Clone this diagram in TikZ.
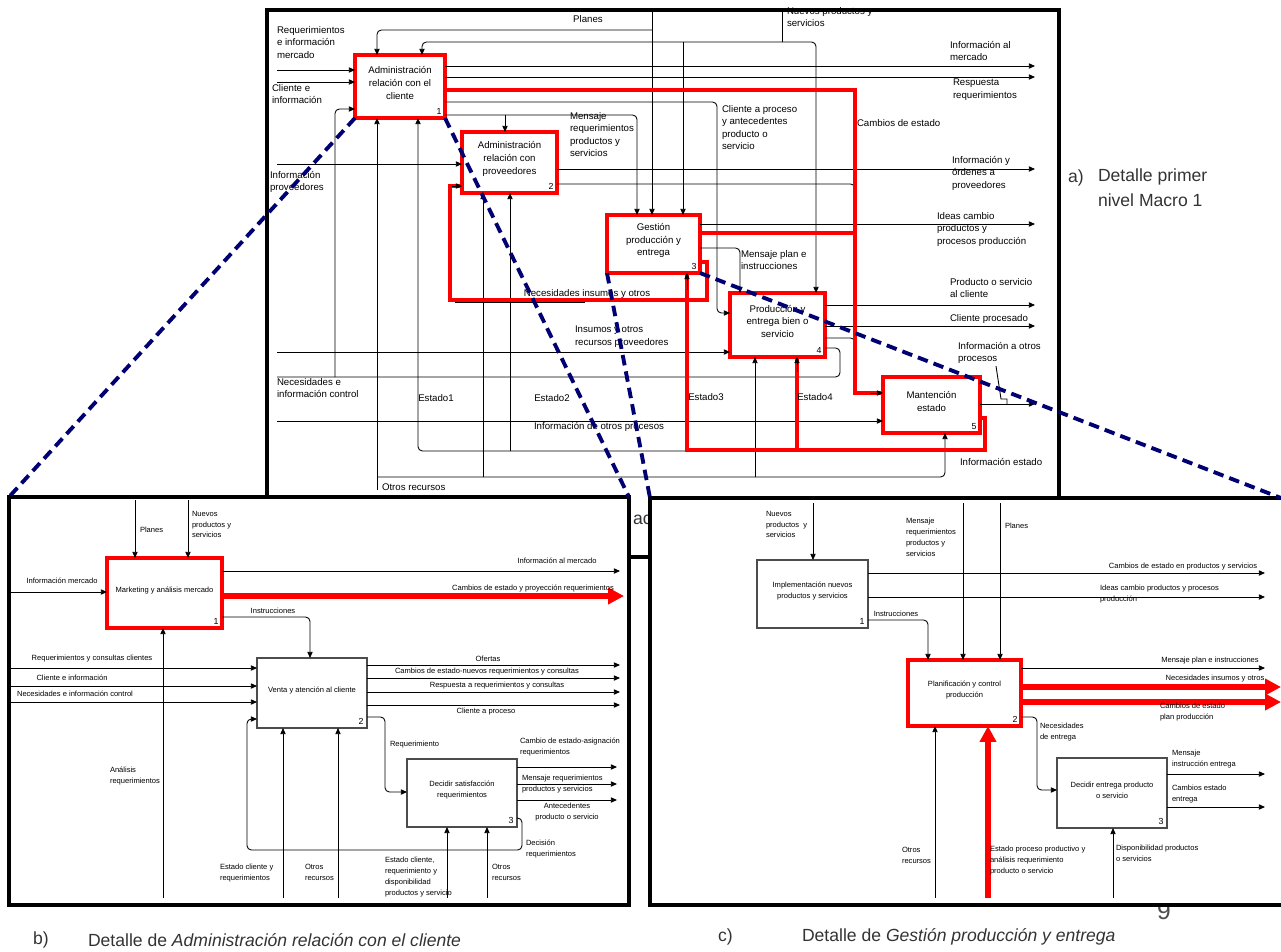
\documentclass[tikz,border=0pt]{standalone}
\usepackage{fontspec}
\setmainfont{Liberation Sans}
\usetikzlibrary{arrows.meta,fit}
\begin{document}
\begin{tikzpicture}[x=0.02cm,y=-0.02cm,
  every node/.style={inner sep=0pt,outer sep=0pt},
  tf/.style={font=\fontsize{5.5}{7.2}\selectfont},
  pf/.style={font=\fontsize{4.3}{6.2}\selectfont},
  lbl/.style={tf,align=left,anchor=north west},
  plbl/.style={pf,align=left,anchor=north west},
  rbox/.style={draw=red,line width=2.6pt,fill=white,align=center,tf},
  gbox/.style={draw=black!70,line width=0.6pt,fill=white,align=center,pf},
  prbox/.style={draw=red,line width=2.6pt,fill=white,align=center,pf},
  conn/.style={draw=black,line width=0.5pt,rounded corners=2.5pt},
  arr/.style={conn,-{Triangle[length=3.5pt,width=3pt]}},
  redl/.style={draw=red,line width=2.3pt},
  bigred/.style={draw=red,line width=3pt,-{Triangle[length=9pt,width=9pt]}},
  frm/.style={draw=black,line width=1.8pt,fill=white},
  bluedash/.style={draw=blue!45!black,line width=2.2pt,dash pattern=on 6pt off 3.5pt},
  boxnum/.style={anchor=south east,inner sep=2pt,font=\fontsize{5}{5}\selectfont},
  capt/.style={font=\fontsize{10}{14}\selectfont,text=black!80,anchor=west,align=left},
]
\useasboundingbox (0,0) rectangle (1281,951);

% ================= TOP DIAGRAM =================
\node[frm, fit={(267,10) (1059,557)}] (TF) {};
\node[capt] at (633,520) {ac};

\node[rbox, fit={(355,55) (445,118)}, label={[boxnum]south east:1}] (A1) {Administración\\relación con el\\cliente};
\node[rbox, fit={(462,132) (557,193)}, label={[boxnum]south east:2}] (A2) {Administración\\relación con\\proveedores};
\node[rbox, fit={(607,215) (700,273)}, label={[boxnum]south east:3}] (A3) {Gestión\\producción y\\entrega};
\node[rbox, fit={(730,293) (825,357)}, label={[boxnum]south east:4}] (A4) {Producción y\\entrega bien o\\servicio};
\node[rbox, fit={(883,377) (980,433)}, label={[boxnum]south east:5}] (A5) {Mantención\\estado};

% controls
\draw[arr] (652,12) -- (652,0 |- A3.north);
\draw[arr] (652,30) -- (377,30) -- (377,0 |- A1.north);
\draw[conn] (782,12) -- (782,42);
\draw[arr] (782,42) -- (422,42) -- (422,0 |- A1.north);
\draw[arr] (782,42) -- (816,42) -- (816,0 |- A4.north);
\draw[arr] (683,42) -- (683,0 |- A3.north);
\draw[arr] (A1.east |- 0,115) -- (637,115) -- (637,0 |- A3.north);
\draw[arr] (505,115) -- (505,0 |- A2.north);
\draw[arr] (A1.east |- 0,102) -- (717,102) -- (717,313) -- (A4.west |- 0,313);
\draw[arr] (A3.east |- 0,248) -- (740,248) -- (740,0 |- A4.north);

% outputs
\draw[arr] (A1.east |- 0,66) -- (1035,66);
\draw[arr] (A1.east |- 0,77) -- (1035,77);
\draw[arr] (A2.east |- 0,169) -- (1035,169);
\draw[conn] (A2.east |- 0,184) -- (855,184) -- (855,195);
\draw[arr] (A3.east |- 0,224) -- (1035,224);
\draw[arr] (A4.east |- 0,305) -- (1035,305);
\draw[arr] (A4.east |- 0,326) -- (1035,326);
\draw[conn] (A4.east |- 0,338) -- (855,338) -- (855,348);
\draw[conn] (A4.east |- 0,348) -- (840,348) -- (840,377) -- (277,377);
\draw[arr] (335,377) -- (335,109) -- (A1.west |- 0,109);
\draw[arr] (A5.east |- 0,404) -- (1035,404);
\draw[line width=0.5pt] (996,366) -- (1001,399) -- (1007,399) -- (1007,404);

% inputs
\draw[arr] (277,70) -- (A1.west |- 0,70);
\draw[arr] (277,82) -- (A1.west |- 0,82);
\draw[arr] (277,164) -- (A2.west |- 0,164);
\draw[arr] (277,352) -- (A4.west |- 0,352);
\draw[arr] (277,421) -- (A5.west |- 0,421);

% mechanisms
\draw[arr] (377,490) -- (377,0 |- A1.south);
\draw[arr] (377,477) -- (945,477) -- (945,0 |- A5.south);
\draw[arr] (483,477) -- (483,0 |- A2.south);
\draw[arr] (755,477) -- (755,0 |- A4.south);
\draw[arr] (690,451) -- (418,451) -- (418,0 |- A1.south);
\draw[arr] (510,451) -- (510,0 |- A2.south);
\draw[conn] (455,302) -- (585,302);

% red highlighted flows
\draw[redl] (A1.east |- 0,90) -- (855,90) -- (855,393) -- (A5.west |- 0,393);
\draw[redl] (A3.east |- 0,233) -- (855,233);
\draw[redl] (A3.east |- 0,262) -- (707,262) -- (707,300) -- (450,300) -- (450,186) -- (A2.west |- 0,186);
\draw[redl] (687,0 |- A3.south) -- (687,450) -- (985,450) -- (985,418) -- (A5.east |- 0,418);
\draw[redl] (797,450) -- (797,0 |- A4.south);
\draw[arr] (870,393) -- (A5.west |- 0,393);
\draw[arr] (452,186) -- (A2.west |- 0,186);
\draw[arr] (687,290) -- (687,0 |- A3.south);
\draw[arr] (797,372) -- (797,0 |- A4.south);

% labels
\node[tf] at (588,19) {Planes};
\node[lbl] at (787,7) {Nuevos productos y\\servicios};
\node[lbl] at (570,112) {Mensaje\\requerimientos\\productos y\\servicios};
\node[lbl] at (722,105) {Cliente a proceso\\y antecedentes\\producto o\\servicio};
\node[lbl] at (741,250) {Mensaje plan e\\instrucciones};
\node[lbl] at (950,41) {Información al\\mercado};
\node[lbl] at (953,79) {Respuesta\\requerimientos};
\node[tf,anchor=west] at (857,123) {Cambios de estado};
\node[lbl] at (952,156) {Información y\\órdenes a\\proveedores};
\node[lbl] at (937,212) {Ideas cambio\\productos y\\procesos producción};
\node[lbl] at (950,278) {Producto o servicio\\al cliente};
\node[tf,anchor=west] at (950,319) {Cliente procesado};
\node[lbl] at (958,342) {Información a otros\\procesos};
\node[tf,anchor=west] at (960,462) {Información estado};
\node[lbl] at (277,26) {Requerimientos\\e información\\mercado};
\node[lbl] at (272,84) {Cliente e\\información};
\node[lbl] at (270,171) {Información\\proveedores};
\node[lbl] at (277,378) {Necesidades e\\información control};
\node[tf] at (587,294) {Necesidades insumos y otros};
\node[lbl] at (575,326) {Insumos y otros\\recursos proveedores};
\node[tf] at (599,427) {Información de otros procesos};
\node[tf] at (436,398) {Estado1};
\node[tf] at (552,398) {Estado2};
\node[tf] at (706,397) {Estado3};
\node[tf] at (815,397) {Estado4};
\node[tf,anchor=west] at (382,487) {Otros recursos};

\node[font=\fontsize{14}{14}\selectfont,text=black!70] at (1164,911) {9};

% ================= PANEL B =================
\node[frm, fit={(9,497) (629,905)}] (PB) {};
\begin{scope}
\clip (11,499) rectangle (627,903);
\node[prbox, fit={(107,558) (222,628)}, label={[boxnum]south east:1}] (B1) {Marketing y análisis mercado};
\node[gbox, fit={(257,658) (367,728)}, label={[boxnum]south east:2}] (B2) {Venta y atención al cliente};
\node[gbox, fit={(407,759) (517,827)}, label={[boxnum]south east:3}] (B3) {Decidir satisfacción\\requerimientos};

\draw[arr] (135,500) -- (135,0 |- B1.north);
\draw[arr] (188,500) -- (188,0 |- B1.north);
\draw[arr] (11,592) -- (B1.west |- 0,592);
\draw[arr] (B1.east |- 0,571) -- (620,571);
\draw[bigred] (B1.east |- 0,596) -- (624,596);
\draw[arr] (B1.east |- 0,617) -- (310,617) -- (310,0 |- B2.north);
\draw[arr] (163,898) -- (163,0 |- B1.south);
\draw[arr] (11,668) -- (B2.west |- 0,668);
\draw[arr] (11,686) -- (B2.west |- 0,686);
\draw[arr] (11,702) -- (B2.west |- 0,702);
\draw[arr] (B3.east |- 0,818) -- (522,818) -- (522,850) -- (247,850) -- (247,719) -- (B2.west |- 0,719);
\draw[arr] (283,898) -- (283,0 |- B2.south);
\draw[arr] (338,898) -- (338,0 |- B2.south);
\draw[arr] (B2.east |- 0,665) -- (620,665);
\draw[arr] (B2.east |- 0,678) -- (620,678);
\draw[arr] (B2.east |- 0,692) -- (620,692);
\draw[arr] (B2.east |- 0,705) -- (620,705);
\draw[arr] (B2.east |- 0,717) -- (385,717) -- (385,792) -- (B3.west |- 0,792);
\draw[arr] (B3.east |- 0,767) -- (617,767);
\draw[arr] (B3.east |- 0,784) -- (617,784);
\draw[arr] (B3.east |- 0,800) -- (617,800);
\draw[arr] (447,898) -- (447,0 |- B3.south);
\draw[arr] (487,898) -- (487,0 |- B3.south);

\node[pf,anchor=west] at (140,530) {Planes};
\node[plbl] at (192,511) {Nuevos\\productos y\\servicios};
\node[pf] at (62,581) {Información mercado};
\node[pf] at (557,561) {Información al mercado};
\node[pf] at (533,588) {Cambios de estado y proyección requerimientos};
\node[pf] at (273,611) {Instrucciones};
\node[plbl] at (110,767) {Análisis\\requerimientos};
\node[pf] at (92,659) {Requerimientos y consultas clientes};
\node[pf] at (72,678) {Cliente e información};
\node[pf] at (75,694) {Necesidades e información control};
\node[plbl] at (526,840) {Decisión\\requerimientos};
\node[plbl] at (220,864) {Estado cliente y\\requerimientos};
\node[plbl] at (305,864) {Otros\\recursos};
\node[pf] at (488,659) {Ofertas};
\node[pf] at (487,672) {Cambios de estado-nuevos requerimientos y consultas};
\node[pf] at (497,686) {Respuesta a requerimientos y consultas};
\node[pf] at (486,712) {Cliente a proceso};
\node[pf,anchor=west] at (390,745) {Requerimiento};
\node[plbl] at (520,738) {Cambio de estado-asignación\\requerimientos};
\node[plbl] at (522,775) {Mensaje requerimientos\\productos y servicios};
\node[pf,align=center,anchor=north] at (567,803) {Antecedentes\\producto o servicio};
\node[plbl] at (385,857) {Estado cliente,\\requerimiento y\\disponibilidad\\productos y servicio};
\node[plbl] at (492,864) {Otros\\recursos};
\end{scope}

% ================= PANEL C =================
\node[frm, fit={(650,498) (1290,905)}] (PC) {};
\coordinate (pcend) at (1281,498);
\node[gbox, fit={(757,560) (868,628)}, label={[boxnum]south east:1}] (C1) {Implementación nuevos\\productos y servicios};
\node[prbox, fit={(908,660) (1021,726)}, label={[boxnum]south east:2}] (C2) {Planificación y control\\producción};
\node[gbox, fit={(1057,758) (1167,828)}, label={[boxnum]south east:3}] (C3) {Decidir entrega producto\\o servicio};

\draw[arr] (813,503) -- (813,0 |- C1.north);
\draw[arr] (963,503) -- (963,0 |- C2.north);
\draw[arr] (1000,503) -- (1000,0 |- C2.north);
\draw[arr] (C1.east |- 0,573) -- (1265,573);
\draw[arr] (C1.east |- 0,597) -- (1265,597);
\draw[arr] (C1.east |- 0,620) -- (928,620) -- (928,0 |- C2.north);
\draw[arr] (C2.east |- 0,668) -- (1265,668);
\draw[bigred] (C2.east |- 0,687) -- (1281,687);
\draw[bigred] (C2.east |- 0,702) -- (1281,702);
\draw[arr] (C2.east |- 0,717) -- (1037,717) -- (1037,790) -- (C3.west |- 0,790);
\draw[arr] (C3.east |- 0,774) -- (1265,774);
\draw[arr] (C3.east |- 0,807) -- (1265,807);
\draw[arr] (1113,898) -- (1113,0 |- C3.south);
\draw[bigred] (988,898) -- (988,0 |- C2.south);
\draw[arr] (935,898) -- (935,0 |- C2.south);

\node[plbl] at (766,511) {Nuevos\\productos\ \ y\\servicios};
\node[plbl] at (906,518) {Mensaje\\requerimientos\\productos y\\servicios};
\node[pf,anchor=west] at (1005,526) {Planes};
\node[pf] at (1183,567) {Cambios de estado en productos y servicios};
\node[plbl] at (1100,585) {Ideas cambio productos y procesos\\producción};
\node[pf] at (896,614) {Instrucciones};
\node[pf] at (1210,661) {Mensaje plan e instrucciones};
\node[pf] at (1215,679) {Necesidades insumos y otros};
\node[plbl] at (1160,703) {Cambios de estado\\plan producción};
\node[plbl] at (1040,723) {Necesidades\\de entrega};
\node[plbl] at (1172,750) {Mensaje\\instrucción entrega};
\node[plbl] at (1172,785) {Cambios estado\\entrega};
\node[plbl] at (1116,845) {Disponibilidad productos\\o servicios};
\node[plbl] at (990,846) {Estado proceso productivo y\\análisis requerimiento\\producto o servicio};
\node[plbl] at (902,847) {Otros\\recursos};

% ================= zoom links =================
\draw[bluedash] (A1.south west) -- (PB.north west);
\draw[bluedash] (A1.south east) -- (PB.north east);
\draw[bluedash] (A3.south west) -- (PC.north west);
\draw[bluedash] (A3.south east) -- (pcend);

% ================= captions =================
\node[capt] at (1068,178) {a)};
\node[capt,anchor=north west] at (1098,169) {Detalle primer\\nivel Macro 1};
\node[capt] at (33,940) {b)};
\node[capt] at (88,940) {Detalle de \textit{Administración relación con el cliente}};
\node[capt] at (718,937) {c)};
\node[capt] at (802,937) {Detalle de \textit{Gestión producción y entrega}};
\end{tikzpicture}
\end{document}
